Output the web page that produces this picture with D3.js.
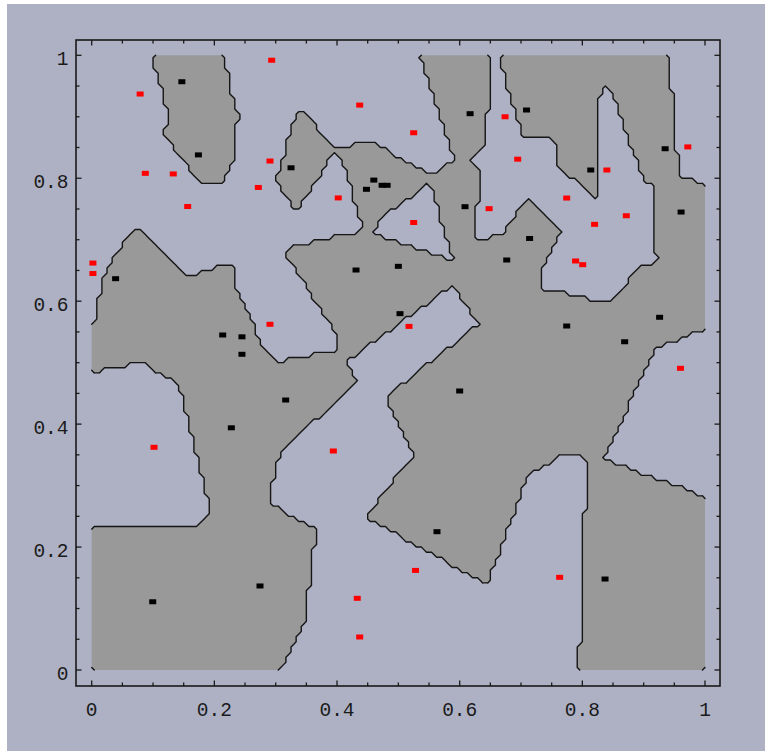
<!DOCTYPE html>
<html><head><meta charset="utf-8">
<script src="https://cdn.jsdelivr.net/npm/d3@7"></script>
<style>html,body{margin:0;padding:0;background:#fff;}svg{display:block;}</style>
</head><body><div id="chart"></div>
<script>
// Class "black" training points (gray region = nearest neighbour is black)
const blackPoints = [
  [0.147,0.957],[0.174,0.838],[0.617,0.905],[0.325,0.817],[0.460,0.797],
  [0.4735,0.7885],[0.4817,0.7885],[0.448,0.782],[0.6087,0.7537],[0.709,0.911],
  [0.935,0.848],[0.8137,0.8134],[0.961,0.745],[0.714,0.702],[0.039,0.6366],
  [0.2136,0.545],[0.245,0.542],[0.245,0.5136],[0.2277,0.394],[0.431,0.6507],
  [0.500,0.6567],[0.6767,0.667],[0.5027,0.5797],[0.3163,0.4392],[0.600,0.4539],
  [0.7745,0.5596],[0.926,0.5738],[0.869,0.534],[0.0995,0.111],[0.2744,0.1367],
  [0.563,0.225],[0.837,0.148]
];
// Class "red" training points
const redPoints = [
  [0.079,0.937],[0.0874,0.808],[0.133,0.807],[0.1565,0.754],[0.2717,0.785],
  [0.2935,0.992],[0.437,0.919],[0.525,0.874],[0.674,0.900],[0.2907,0.828],
  [0.402,0.768],[0.525,0.728],[0.648,0.7505],[0.6946,0.831],[0.972,0.851],
  [0.840,0.8134],[0.7745,0.7678],[0.8717,0.739],[0.820,0.725],[0.002,0.662],
  [0.002,0.645],[0.1016,0.3623],[0.2907,0.5624],[0.5174,0.559],[0.394,0.3563],
  [0.789,0.6654],[0.8006,0.6594],[0.960,0.4908],[0.528,0.162],[0.433,0.1166],
  [0.437,0.0537],[0.763,0.1508]
];
const majorTicks = [0, 0.2, 0.4, 0.6, 0.8, 1];
const tickLabels = ["0", "0.2", "0.4", "0.6", "0.8", "1"];
const minorStep = 0.05;

const W = 765, H = 751;
const svg = d3.select("#chart").append("svg").attr("width", W).attr("height", H);
svg.append("rect").attr("x",0).attr("y",0).attr("width",W).attr("height",H).attr("fill","#ffffff");
svg.append("rect").attr("x",7).attr("y",4).attr("width",W-7).attr("height",H-4).attr("fill","#aeb1c4");

const x = d3.scaleLinear().domain([0,1]).range([91.7, 705]);
const y = d3.scaleLinear().domain([0,1]).range([670, 55.3]);
const frame = {x0:76, x1:720, y0:40, y1:686};

// 1-nearest-neighbour classification on a grid
const N = 120;
const values = new Array(N*N);
for (let j = 0; j < N; j++) {
  const py = (j + 0.5) / N;
  for (let i = 0; i < N; i++) {
    const px = (i + 0.5) / N;
    let db = Infinity, dr = Infinity;
    for (const p of blackPoints) { const d = (p[0]-px)**2 + (p[1]-py)**2; if (d < db) db = d; }
    for (const p of redPoints) { const d = (p[0]-px)**2 + (p[1]-py)**2; if (d < dr) dr = d; }
    values[j*N + i] = db < dr ? 1 : 0;
  }
}
const contour = d3.contours().size([N, N]).thresholds([0.5])(values)[0];
const P = c => [x(c[0]/N), y(c[1]/N)];

let fillD = "";
let lineD = "";
const onBorder = (a, b) => (a[0] === 0 && b[0] === 0) || (a[0] === N && b[0] === N) ||
                           (a[1] === 0 && b[1] === 0) || (a[1] === N && b[1] === N);
for (const poly of contour.coordinates) {
  for (const ring of poly) {
    fillD += "M" + ring.map(c => P(c).join(",")).join("L") + "Z";
    for (let k = 0; k < ring.length - 1; k++) {
      const a = ring[k], b = ring[k+1];
      if (onBorder(a, b)) continue;
      const pa = P(a), pb = P(b);
      lineD += "M" + pa.join(",") + "L" + pb.join(",");
    }
  }
}
svg.append("path").attr("d", fillD).attr("fill", "#999999").attr("fill-rule", "evenodd");
svg.append("path").attr("d", lineD).attr("fill", "none").attr("stroke", "#151515")
  .attr("stroke-width", 1.4).attr("stroke-linecap", "round");

// Frame and ticks
const g = svg.append("g");
g.append("rect").attr("x", frame.x0).attr("y", frame.y0)
  .attr("width", frame.x1 - frame.x0).attr("height", frame.y1 - frame.y0)
  .attr("fill", "none").attr("stroke", "#1a1a1a").attr("stroke-width", 1.6);

const allTicks = d3.range(0, 1 + 1e-9, minorStep);
const isMajor = v => majorTicks.some(m => Math.abs(m - v) < 1e-6);
for (const v of allTicks) {
  const len = isMajor(v) ? 5.5 : 3.5;
  const xv = x(v), yv = y(v);
  g.append("line").attr("x1", xv).attr("x2", xv).attr("y1", frame.y1).attr("y2", frame.y1 - len);
  g.append("line").attr("x1", xv).attr("x2", xv).attr("y1", frame.y0).attr("y2", frame.y0 + len);
  g.append("line").attr("y1", yv).attr("y2", yv).attr("x1", frame.x0).attr("x2", frame.x0 + len);
  g.append("line").attr("y1", yv).attr("y2", yv).attr("x1", frame.x1).attr("x2", frame.x1 - len);
}
g.selectAll("line").attr("stroke", "#1a1a1a").attr("stroke-width", 1.3);

const font = "'Liberation Mono', 'Courier New', monospace";
majorTicks.forEach((v, i) => {
  svg.append("text").attr("x", x(v)).attr("y", 715.5).attr("text-anchor", "middle")
    .attr("font-family", font).attr("font-size", 19.5).attr("fill", "#1a1a1a").text(tickLabels[i]);
  svg.append("text").attr("x", 68.5).attr("y", y(v) + 9.5).attr("text-anchor", "end")
    .attr("font-family", font).attr("font-size", 19.5).attr("fill", "#1a1a1a").text(tickLabels[i]);
});

// Points
const pts = svg.append("g");
pts.selectAll("rect.b").data(blackPoints).join("rect").attr("class","b")
  .attr("x", d => x(d[0]) - 3.5).attr("y", d => y(d[1]) - 2.5)
  .attr("width", 7).attr("height", 5).attr("fill", "#000");
pts.selectAll("rect.r").data(redPoints).join("rect").attr("class","r")
  .attr("x", d => x(d[0]) - 3.5).attr("y", d => y(d[1]) - 2.5)
  .attr("width", 7).attr("height", 5).attr("fill", "#ff0000");
</script>
</body></html>
